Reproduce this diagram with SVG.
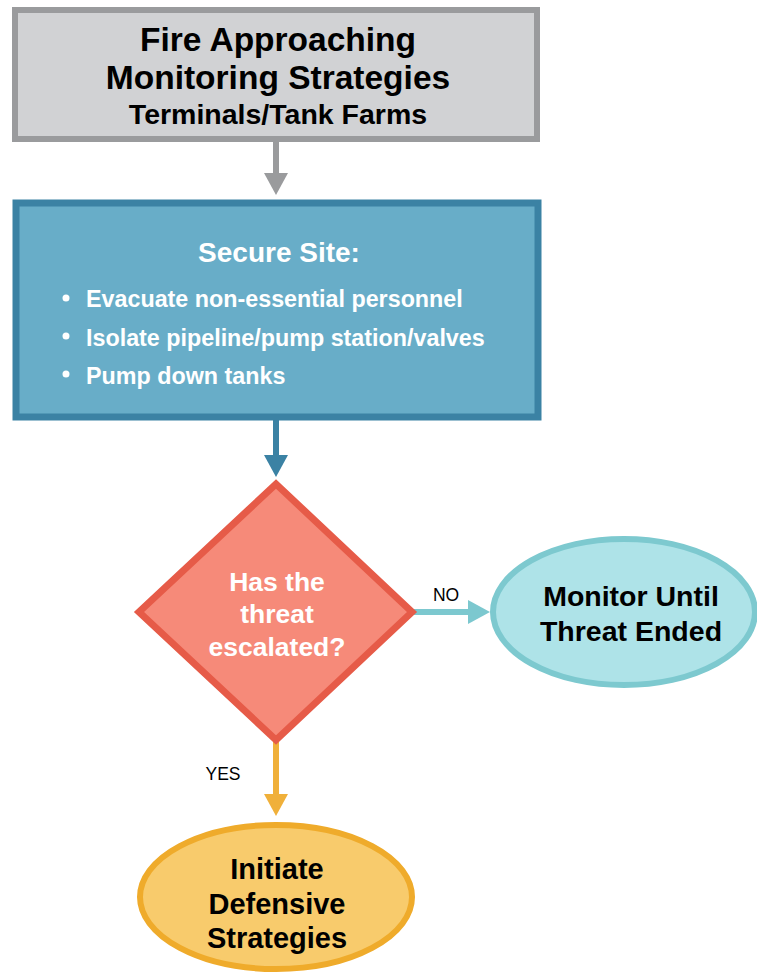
<svg xmlns="http://www.w3.org/2000/svg" width="757" height="974" viewBox="0 0 757 974">
<style>
text{font-family:"Liberation Sans",Arial,sans-serif;text-anchor:middle}
.b{font-weight:bold}
.w{fill:#ffffff}
.k{fill:#000000}
.l{text-anchor:start}
</style>
<rect width="757" height="974" fill="#ffffff"/>
<g id="connectors">
<line x1="276" y1="141" x2="276" y2="175" stroke="#9a9b9d" stroke-width="6"/>
<path d="M264,173 L288,173 L276,195 z" fill="#9a9b9d"/>
<line x1="276" y1="419" x2="276" y2="456" stroke="#3b82a4" stroke-width="6"/>
<path d="M264,455 L288,455 L276,477 z" fill="#3b82a4"/>
<line x1="413" y1="612" x2="470" y2="612" stroke="#7cc8cf" stroke-width="6"/>
<path d="M468,600 L490,612 L468,624 z" fill="#7cc8cf"/>
<line x1="276" y1="740" x2="276" y2="796" stroke="#f0b03a" stroke-width="6"/>
<path d="M264,794 L288,794 L276,816 z" fill="#f0b03a"/>
<text x="446" y="601" font-size="17.5">NO</text>
<text x="223" y="780" font-size="17.5">YES</text>
</g>
<g id="title">
<rect x="15" y="10" width="522" height="129" fill="#d1d2d4" stroke="#9a9b9d" stroke-width="6"/>
<text x="278" y="51" font-size="33.5" class="b k">Fire Approaching</text>
<text x="278" y="89" font-size="33.5" class="b k">Monitoring Strategies</text>
<text x="278" y="124" font-size="28.5" class="b k">Terminals/Tank Farms</text>
</g>
<g id="secure">
<rect x="16" y="203" width="522" height="214" fill="#68adc8" stroke="#3b82a4" stroke-width="7"/>
<text x="279" y="262" font-size="28" class="b w">Secure Site:</text>
<circle cx="66" cy="298" r="3.5" fill="#ffffff"/>
<text x="86" y="307" font-size="23.3" class="b w l">Evacuate non-essential personnel</text>
<circle cx="66" cy="336" r="3.5" fill="#ffffff"/>
<text x="86" y="346" font-size="23.3" class="b w l">Isolate pipeline/pump station/valves</text>
<circle cx="66" cy="374" r="3.5" fill="#ffffff"/>
<text x="86" y="384" font-size="23.3" class="b w l">Pump down tanks</text>
</g>
<g id="decision">
<polygon points="276,484 412,612 276,740 139,612" fill="#f68a79" stroke="#e65b48" stroke-width="7" stroke-linejoin="miter"/>
<text x="277" y="591" font-size="26.5" class="b w">Has the</text>
<text x="277" y="623" font-size="26.5" class="b w">threat</text>
<text x="277" y="656" font-size="26.5" class="b w">escalated?</text>
</g>
<g id="monitor">
<ellipse cx="624" cy="612" rx="131" ry="73" fill="#aee3e8" stroke="#7dc9cf" stroke-width="6"/>
<text x="631" y="606" font-size="28.5" class="b k">Monitor Until</text>
<text x="631" y="641" font-size="28.5" class="b k">Threat Ended</text>
</g>
<g id="initiate">
<ellipse cx="276" cy="897" rx="136" ry="72" fill="#f8cb6c" stroke="#efab2b" stroke-width="6"/>
<text x="277" y="879" font-size="29" class="b k">Initiate</text>
<text x="277" y="914" font-size="29" class="b k">Defensive</text>
<text x="277" y="948" font-size="29" class="b k">Strategies</text>
</g>
</svg>
